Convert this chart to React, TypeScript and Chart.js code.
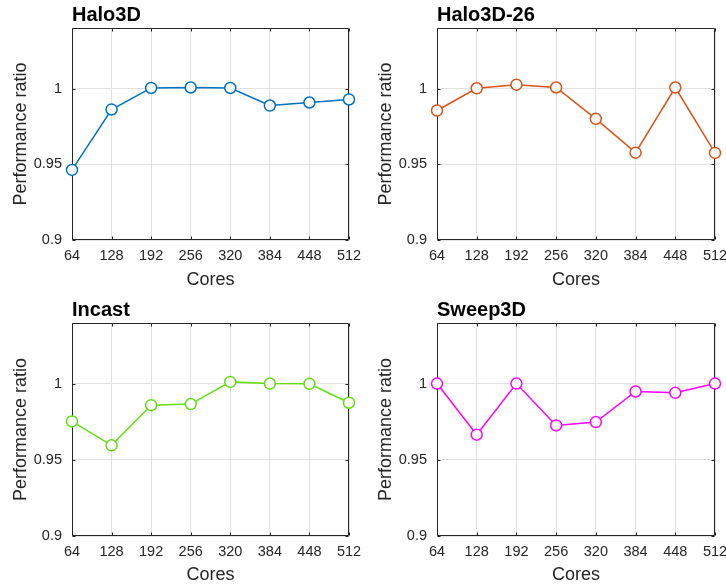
import React, { useEffect, useRef } from 'react';
import { Chart, registerables } from 'chart.js';

Chart.register(...registerables);

// ---- data ----
const cores = ['64', '128', '192', '256', '320', '384', '448', '512'];
const halo3d = [0.9463, 0.9862, 1.0004, 1.0007, 1.0004, 0.9888, 0.9908, 0.9928];
const halo3d26 = [0.9855, 1.0002, 1.0026, 1.0007, 0.98, 0.9577, 1.0007, 0.9575];
const incast = [0.9753, 0.9596, 0.986, 0.9867, 1.0013, 1.0002, 1.0, 0.9876];
const sweep3d = [1.0002, 0.9666, 1.0002, 0.9727, 0.9749, 0.995, 0.9941, 1.0002];
const yTicks = [0.9, 0.95, 1];
const yMin = 0.9;
const yMax = 1.04;
const xTitle = 'Cores';
const yTitle = 'Performance ratio';

const FONT = '"Liberation Sans", Arial, Helvetica, sans-serif';
const AXIS_COLOR = '#262626';
const GRID_COLOR = '#e2e2e2';

type Plot = { l: number; t: number; r: number; b: number };

type PanelProps = {
  title: string;
  values: number[];
  color: string;
  x: number;
  y: number;
  w: number;
  h: number;
  plot: Plot;
};

const boxPlugin = {
  id: 'matlabBox',
  beforeDatasetsDraw(chart: any) {
    const { ctx, chartArea, scales } = chart;
    const { left, right, top, bottom } = chartArea;
    ctx.save();
    ctx.strokeStyle = AXIS_COLOR;
    ctx.lineWidth = 1;
    const L = Math.round(left) + 0.5;
    const R = Math.round(right) - 0.5;
    const T = Math.round(top) + 0.5;
    const B = Math.round(bottom) - 0.5;
    ctx.beginPath();
    ctx.rect(L, T, R - L, B - T);
    ctx.stroke();
    const tl = 3;
    ctx.beginPath();
    const xs = scales.x;
    for (let i = 0; i < xs.ticks.length; i++) {
      const px = Math.round(xs.getPixelForTick(i)) + 0.5;
      ctx.moveTo(px, B);
      ctx.lineTo(px, B - tl);
      ctx.moveTo(px, T);
      ctx.lineTo(px, T + tl);
    }
    const ys = scales.y;
    for (let i = 0; i < ys.ticks.length; i++) {
      const py = Math.round(ys.getPixelForValue(ys.ticks[i].value)) + 0.5;
      ctx.moveTo(L, py);
      ctx.lineTo(L + tl, py);
      ctx.moveTo(R, py);
      ctx.lineTo(R - tl, py);
    }
    ctx.stroke();
    ctx.restore();
  },
};

const titlePlugin = {
  id: 'panelTitle',
  afterDraw(chart: any, _args: any, opts: any) {
    const { ctx, chartArea } = chart;
    ctx.save();
    ctx.font = `bold 20px ${FONT}`;
    ctx.fillStyle = '#000';
    ctx.textAlign = 'left';
    ctx.textBaseline = 'alphabetic';
    ctx.fillText(opts.text, chartArea.left, chartArea.top - 7);
    ctx.restore();
  },
};

function Panel({ title, values, color, x, y, w, h, plot }: PanelProps) {
  const ref = useRef<HTMLCanvasElement | null>(null);
  useEffect(() => {
    if (!ref.current) return;
    const chart = new Chart(ref.current, {
      type: 'line',
      data: {
        labels: cores,
        datasets: [
          {
            data: values,
            borderColor: color,
            borderWidth: 1.5,
            pointRadius: 5.5,
            pointBorderWidth: 1.5,
            pointBackgroundColor: '#ffffff',
            pointBorderColor: color,
            tension: 0,
            clip: false as any,
          },
        ],
      },
      options: {
        responsive: false,
        animation: false,
        devicePixelRatio: 1,
        events: [],
        layout: { padding: { left: 0, top: plot.t, right: w - plot.r, bottom: 0 } },
        plugins: {
          legend: { display: false },
          tooltip: { enabled: false },
          panelTitle: { text: title },
        } as any,
        scales: {
          x: {
            type: 'category',
            offset: false,
            border: { display: false },
            grid: { color: GRID_COLOR, drawTicks: false, lineWidth: 1 },
            ticks: {
              color: AXIS_COLOR,
              font: { family: FONT, size: 14.5 },
              padding: 7.5,
              maxRotation: 0,
              autoSkip: false,
            },
            title: {
              display: true,
              text: xTitle,
              color: AXIS_COLOR,
              font: { family: FONT, size: 18 },
              padding: { top: 0, bottom: (h - plot.b) > 52 ? 2.2 : 1.5 },
            },
            afterFit: (s: any) => {
              s.height = h - plot.b;
              s.paddingLeft = 0;
              s.paddingRight = 0;
            },
          },
          y: {
            type: 'linear',
            min: yMin,
            max: yMax,
            border: { display: false },
            grid: { color: GRID_COLOR, drawTicks: false, lineWidth: 1 },
            afterBuildTicks: (s: any) => {
              s.ticks = yTicks.map((v) => ({ value: v }));
            },
            ticks: {
              color: AXIS_COLOR,
              font: { family: FONT, size: 14.5 },
              padding: 10,
              callback: (v: any) => String(v),
            },
            title: {
              display: true,
              text: yTitle,
              color: AXIS_COLOR,
              font: { family: FONT, size: 18 },
              padding: { top: plot.l - 51 - 10.8, bottom: 0 },
            },
            afterFit: (s: any) => {
              s.width = plot.l;
              s.paddingTop = 0;
              s.paddingBottom = 0;
            },
          },
        },
      } as any,
      plugins: [boxPlugin, titlePlugin],
    });
    return () => chart.destroy();
  }, []);
  return (
    <div style={{ position: 'absolute', left: x, top: y, width: w, height: h }}>
      <canvas ref={ref} width={w} height={h} style={{ display: 'block', width: w, height: h }} />
    </div>
  );
}

export default function App() {
  return (
    <div style={{ position: 'absolute', left: 0, top: 0, width: 726, height: 587, background: '#fff', overflow: 'hidden' }}>
      <Panel title="Halo3D" values={halo3d} color="#0072BD" x={0} y={0} w={363} h={293} plot={{ l: 72, t: 28, r: 349, b: 240 }} />
      <Panel title="Halo3D-26" values={halo3d26} color="#D95319" x={363} y={0} w={363} h={293} plot={{ l: 74, t: 28, r: 352, b: 240 }} />
      <Panel title="Incast" values={incast} color="#64DC14" x={0} y={293} w={363} h={294} plot={{ l: 72, t: 30, r: 349, b: 243 }} />
      <Panel title="Sweep3D" values={sweep3d} color="#FF00FF" x={363} y={293} w={363} h={294} plot={{ l: 74, t: 30, r: 352, b: 243 }} />
    </div>
  );
}
